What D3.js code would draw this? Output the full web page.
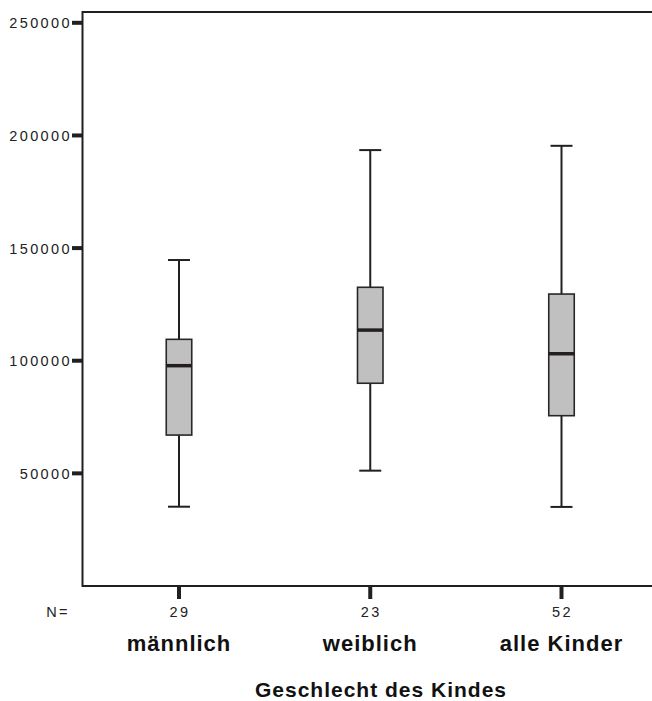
<!DOCTYPE html>
<html><head><meta charset="utf-8">
<script src="https://cdn.jsdelivr.net/npm/d3@7"></script>
<style>body{margin:0;background:#fff}svg{display:block}</style>
</head><body>
<script>
const categories = ["männlich", "weiblich", "alle Kinder"];
const counts = [29, 23, 52];
const mins = [35200, 51200, 35100];
const q1s = [67000, 90000, 75600];
const medians = [97800, 113600, 103100];
const q3s = [109500, 132600, 129600];
const maxs = [144700, 193500, 195400];
const yTicks = [50000, 100000, 150000, 200000, 250000];
const xTitle = "Geschlecht des Kindes";

(function () {
const W = 652, H = 701;
const pL = 82.5, pR = 652, pT = 12, pB = 586;
const svg = d3.select("body").append("svg").attr("width", W).attr("height", H);

const y = d3.scaleLinear().domain([0, 254800]).range([pB, pT]);
const x = d3.scalePoint().domain(categories).range([179, 561.5]);

const dark = "#231f20";
const font = "'Liberation Sans', Arial, sans-serif";
svg.append("line").attr("x1", pL).attr("x2", pR).attr("y1", pT).attr("y2", pT).attr("stroke", dark).attr("stroke-width", 2);
svg.append("line").attr("x1", pL).attr("x2", pR).attr("y1", pB).attr("y2", pB).attr("stroke", dark).attr("stroke-width", 2);
svg.append("line").attr("x1", pL).attr("x2", pL).attr("y1", pT - 1).attr("y2", pB + 1).attr("stroke", dark).attr("stroke-width", 2);

const yg = svg.append("g");
yTicks.forEach(t => {
  yg.append("line").attr("x1", 72).attr("x2", pL).attr("y1", y(t)).attr("y2", y(t)).attr("stroke", dark).attr("stroke-width", 4);
  yg.append("text").attr("x", 72).attr("y", y(t)).attr("dy", "0.38em").attr("text-anchor", "end")
    .style("font-family", font).style("font-size", "14.5px").style("letter-spacing", "2.4px")
    .attr("fill", "#222").text(t);
});

categories.forEach((c, i) => {
  const cx = x(c);
  svg.append("line").attr("x1", cx).attr("x2", cx).attr("y1", pB).attr("y2", pB + 13).attr("stroke", dark).attr("stroke-width", 4);
  svg.append("text").attr("x", cx + 1).attr("y", 617).attr("text-anchor", "middle")
    .style("font-family", font).style("font-size", "14.5px").style("letter-spacing", "2.4px")
    .attr("fill", "#222").text(counts[i]);
  svg.append("text").attr("x", cx).attr("y", 651).attr("text-anchor", "middle")
    .style("font-family", font).style("font-size", "22px").style("font-weight", "bold").style("letter-spacing", "1px")
    .attr("fill", "#111").text(c);
});
svg.append("text").attr("x", 70).attr("y", 617).attr("text-anchor", "end")
  .style("font-family", font).style("font-size", "14.5px").style("letter-spacing", "2.4px")
  .attr("fill", "#222").text("N=");

svg.append("text").attr("x", 381).attr("y", 697).attr("text-anchor", "middle")
  .style("font-family", font).style("font-size", "21px").style("font-weight", "bold").style("letter-spacing", "1px")
  .attr("fill", "#111").text(xTitle);

const boxW = 25.5, capW = 22;
categories.forEach((c, i) => {
  const cx = x(c);
  const g = svg.append("g");
  g.append("line").attr("x1", cx).attr("x2", cx).attr("y1", y(maxs[i])).attr("y2", y(q3s[i])).attr("stroke", dark).attr("stroke-width", 2);
  g.append("line").attr("x1", cx).attr("x2", cx).attr("y1", y(q1s[i])).attr("y2", y(mins[i])).attr("stroke", dark).attr("stroke-width", 2);
  g.append("line").attr("x1", cx - capW / 2).attr("x2", cx + capW / 2).attr("y1", y(maxs[i])).attr("y2", y(maxs[i])).attr("stroke", dark).attr("stroke-width", 2);
  g.append("line").attr("x1", cx - capW / 2).attr("x2", cx + capW / 2).attr("y1", y(mins[i])).attr("y2", y(mins[i])).attr("stroke", dark).attr("stroke-width", 2);
  g.append("rect").attr("x", cx - boxW / 2).attr("width", boxW).attr("y", y(q3s[i])).attr("height", y(q1s[i]) - y(q3s[i]))
    .attr("fill", "#c0c0c0").attr("stroke", "#2a2626").attr("stroke-width", 1.6);
  g.append("line").attr("x1", cx - boxW / 2).attr("x2", cx + boxW / 2).attr("y1", y(medians[i])).attr("y2", y(medians[i])).attr("stroke", dark).attr("stroke-width", 3.5);
});
})();
</script>
</body></html>
